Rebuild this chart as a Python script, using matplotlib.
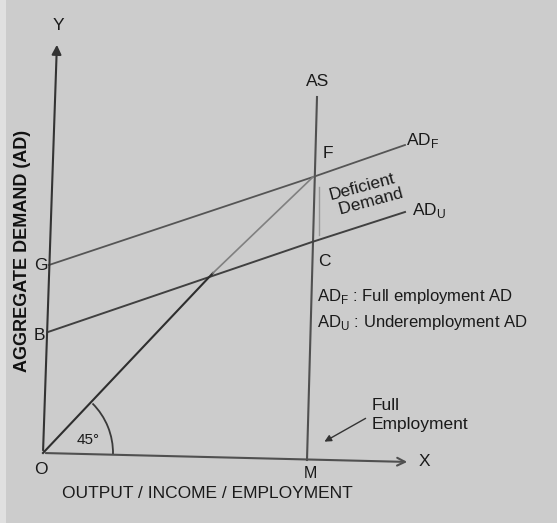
import numpy as np
import matplotlib.pyplot as plt
from matplotlib.patches import Arc, Rectangle

plt.rcParams['font.family'] = ['Liberation Sans', 'DejaVu Sans']
plt.rcParams['mathtext.fontset'] = 'custom'
plt.rcParams['mathtext.rm'] = 'Liberation Sans'

# ================================================================
# Pontos do diagrama (coordenadas da figura digitalizada, y para baixo)
# ================================================================
O = (43, 453)          # origem
Y_top = (57, 42)       # ponta do eixo Y
X_end = (410, 462)     # ponta do eixo X
AS_x = [317, 307]      # curva AS (topo, M)
AS_y = [97, 460]
ADF_x = [49, 313, 405]  # G -> F -> fim
ADF_y = [265, 177, 145]
ADU_x = [48, 312, 405]  # B -> C -> fim
ADU_y = [332, 242, 212]
L45_x = [43, 213, 313]  # O -> cruzamento com ADU -> F
L45_y = [453, 273, 177]
gap_x = [319, 319]     # demanda deficiente (F-C)
gap_y = [187, 235]

fig = plt.figure(figsize=(5.57, 5.23), dpi=100)
ax = fig.add_axes([0, 0, 1, 1])
ax.set_xlim(0, 557)
ax.set_ylim(523, 0)
ax.axis('off')
fig.patch.set_facecolor('#cccccc')
ax.add_patch(Rectangle((0, 0), 6, 523, color='#e0e0e0', lw=0))

dark = '#333333'

# eixos
ax.annotate('', xy=Y_top, xytext=O,
            arrowprops=dict(arrowstyle='-|>', color=dark, lw=1.5, mutation_scale=14))
ax.annotate('', xy=X_end, xytext=O,
            arrowprops=dict(arrowstyle='->', color='#505050', lw=1.5, mutation_scale=14))

# curvas
ax.plot(AS_x, AS_y, color='#505050', lw=1.5)
ax.plot(ADF_x, ADF_y, color='#555555', lw=1.3)
ax.plot(ADU_x, ADU_y, color='#404040', lw=1.4)
ax.plot(L45_x[:2], L45_y[:2], color='#2e2e2e', lw=1.5)
ax.plot(L45_x[1:], L45_y[1:], color='#808080', lw=1.2)
ax.plot(gap_x, gap_y, color='#9a9a9a', lw=1.0)

# arco de 45 graus
ax.add_patch(Arc(O, 140, 140, theta1=-45, theta2=1, color='#3a3a3a', lw=1.3))

# textos
txt = dict(color='#1a1a1a', fontsize=12.5)
ax.text(58, 25, 'Y', ha='center', va='center', **txt)
ax.text(424, 461, 'X', ha='center', va='center', **txt)
ax.text(41, 470, 'O', ha='center', va='center', **txt)
ax.text(41, 265, 'G', ha='center', va='center', **txt)
ax.text(39, 336, 'B', ha='center', va='center', **txt)
ax.text(318, 82, 'AS', ha='center', va='center', **txt)
ax.text(328, 153, 'F', ha='center', va='center', **txt)
ax.text(324, 262, 'C', ha='center', va='center', **txt)
ax.text(310, 473, 'M', ha='center', va='center', color='#1a1a1a', fontsize=11.5)
ax.text(406, 140, r'AD$_\mathrm{F}$', ha='left', va='center', **txt)
ax.text(412, 210, r'AD$_\mathrm{U}$', ha='left', va='center', **txt)
ax.text(88, 440, '45°', ha='center', va='center', color='#1a1a1a', fontsize=11)
ax.text(364, 195, 'Deficient\n  Demand', ha='center', va='center',
        rotation=15, linespacing=1.1, **txt)
ax.text(317, 297, r'AD$_\mathrm{F}$ : Full employment AD', ha='left', va='center',
        color='#1a1a1a', fontsize=12)
ax.text(317, 322, r'AD$_\mathrm{U}$ : Underemployment AD', ha='left', va='center',
        color='#1a1a1a', fontsize=12)
ax.text(372, 415, 'Full\nEmployment', ha='left', va='center', linespacing=1.35, **txt)
ax.annotate('', xy=(322, 443), xytext=(368, 417),
            arrowprops=dict(arrowstyle='-|>', color='#333333', lw=1.0, mutation_scale=10))
ax.text(207, 494, 'OUTPUT / INCOME / EMPLOYMENT', ha='center', va='center', **txt)
ax.text(23, 251, 'AGGREGATE DEMAND (AD)', ha='center', va='center', rotation=90,
        color='#111111', fontsize=13, fontweight='bold')

fig.savefig('out.png', dpi=100, facecolor=fig.get_facecolor())
